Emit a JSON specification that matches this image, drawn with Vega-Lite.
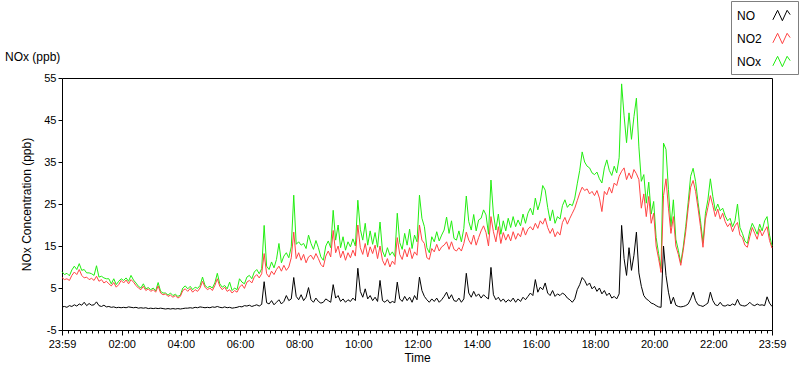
{
  "$schema": "https://vega.github.io/schema/vega-lite/v6.json",
  "width": 710,
  "height": 252,
  "autosize": {"type": "none"},
  "padding": {"left": 62, "top": 78, "right": 28, "bottom": 39},
  "background": "white",
  "config": {
    "font": "Liberation Sans",
    "view": {"stroke": "#000000", "strokeWidth": 1},
    "axis": {"labelFont": "Liberation Sans", "titleFont": "Liberation Sans", "labelColor": "#000", "titleColor": "#000", "tickColor": "#000", "titleFontWeight": "normal", "labelFontSize": 11, "titleFontSize": 12, "grid": false, "domain": false}
  },
  "title": {"text": "NOx (ppb)", "anchor": "start", "frame": "group", "dx": -57, "offset": -63, "fontSize": 12, "fontWeight": "normal", "font": "Liberation Sans", "color": "#000"},
  "data": {"values": [
{"t":0,"NO":0.5,"NO2":7.5,"NOx":8.9},{"t":5,"NO":0.6,"NO2":7.0,"NOx":8.2},{"t":10,"NO":0.4,"NO2":7.2,"NOx":8.5},{"t":15,"NO":0.8,"NO2":6.8,"NOx":7.9},{"t":20,"NO":0.6,"NO2":8.0,"NOx":9.3},{"t":25,"NO":1.0,"NO2":8.8,"NOx":10.2},{"t":30,"NO":0.7,"NO2":8.2,"NOx":9.4},{"t":35,"NO":1.2,"NO2":9.4,"NOx":10.8},{"t":40,"NO":0.9,"NO2":8.0,"NOx":9.2},{"t":45,"NO":1.6,"NO2":7.4,"NOx":9.4},{"t":50,"NO":0.8,"NO2":7.6,"NOx":8.6},{"t":55,"NO":1.3,"NO2":7.0,"NOx":8.6},{"t":60,"NO":0.9,"NO2":7.3,"NOx":8.4},
{"t":65,"NO":1.0,"NO2":6.8,"NOx":8.0},{"t":70,"NO":1.7,"NO2":7.8,"NOx":10.3},{"t":75,"NO":0.8,"NO2":6.6,"NOx":7.6},{"t":80,"NO":0.6,"NO2":7.0,"NOx":7.8},{"t":85,"NO":0.9,"NO2":6.2,"NOx":7.4},{"t":90,"NO":0.5,"NO2":6.6,"NOx":7.2},{"t":95,"NO":0.6,"NO2":6.0,"NOx":7.2},{"t":100,"NO":0.4,"NO2":5.5,"NOx":6.0},{"t":105,"NO":0.5,"NO2":6.3,"NOx":7.2},{"t":110,"NO":0.3,"NO2":5.2,"NOx":5.8},{"t":115,"NO":0.4,"NO2":5.8,"NOx":6.6},{"t":120,"NO":0.3,"NO2":6.8,"NOx":7.2},
{"t":125,"NO":0.4,"NO2":6.2,"NOx":6.8},{"t":130,"NO":0.3,"NO2":6.9,"NOx":7.4},{"t":135,"NO":0.5,"NO2":6.0,"NOx":6.6},{"t":140,"NO":0.4,"NO2":7.0,"NOx":8.0},{"t":145,"NO":0.3,"NO2":6.4,"NOx":6.9},{"t":150,"NO":0.4,"NO2":5.6,"NOx":6.2},{"t":155,"NO":0.2,"NO2":5.0,"NOx":5.4},{"t":160,"NO":0.3,"NO2":4.6,"NOx":5.0},{"t":165,"NO":0.2,"NO2":5.4,"NOx":6.0},{"t":170,"NO":0.3,"NO2":4.4,"NOx":4.8},{"t":175,"NO":0.1,"NO2":4.8,"NOx":5.1},{"t":180,"NO":0.2,"NO2":4.2,"NOx":4.6},{"t":185,"NO":0.1,"NO2":4.6,"NOx":5.0},{"t":190,"NO":0.2,"NO2":4.0,"NOx":4.3},{"t":195,"NO":0.1,"NO2":5.5,"NOx":6.3},{"t":200,"NO":0.2,"NO2":3.8,"NOx":4.2},{"t":205,"NO":0.1,"NO2":3.4,"NOx":3.8},{"t":210,"NO":0.0,"NO2":3.6,"NOx":3.8},{"t":215,"NO":0.1,"NO2":3.0,"NOx":3.3},{"t":220,"NO":0.0,"NO2":3.3,"NOx":3.8},{"t":225,"NO":0.1,"NO2":2.8,"NOx":3.2},{"t":230,"NO":0.0,"NO2":3.2,"NOx":3.5},{"t":235,"NO":0.1,"NO2":2.6,"NOx":3.0},{"t":240,"NO":0.0,"NO2":3.0,"NOx":3.3},{"t":245,"NO":0.1,"NO2":4.4,"NOx":5.0},{"t":250,"NO":0.2,"NO2":4.8,"NOx":5.5},
{"t":255,"NO":0.2,"NO2":4.2,"NOx":4.8},{"t":260,"NO":0.3,"NO2":4.9,"NOx":5.4},{"t":265,"NO":0.2,"NO2":4.0,"NOx":4.6},{"t":270,"NO":0.4,"NO2":4.6,"NOx":5.2},{"t":275,"NO":0.3,"NO2":4.2,"NOx":4.9},{"t":280,"NO":0.5,"NO2":5.0,"NOx":5.6},{"t":285,"NO":0.4,"NO2":6.6,"NOx":7.6},{"t":290,"NO":0.3,"NO2":5.2,"NOx":5.6},{"t":295,"NO":0.4,"NO2":4.6,"NOx":5.1},{"t":300,"NO":0.3,"NO2":5.0,"NOx":5.4},{"t":305,"NO":0.5,"NO2":4.4,"NOx":5.0},{"t":310,"NO":0.4,"NO2":5.6,"NOx":6.2},{"t":315,"NO":0.6,"NO2":7.2,"NOx":8.5},{"t":320,"NO":0.4,"NO2":5.4,"NOx":6.0},{"t":325,"NO":0.3,"NO2":4.6,"NOx":5.2},{"t":330,"NO":0.5,"NO2":5.2,"NOx":5.6},{"t":335,"NO":0.3,"NO2":4.2,"NOx":4.8},{"t":340,"NO":0.4,"NO2":4.6,"NOx":6.4},{"t":345,"NO":0.2,"NO2":3.8,"NOx":4.4},{"t":350,"NO":0.3,"NO2":4.4,"NOx":5.0},{"t":355,"NO":0.4,"NO2":4.0,"NOx":4.6},{"t":360,"NO":0.6,"NO2":5.2,"NOx":7.2},{"t":365,"NO":0.5,"NO2":5.8,"NOx":6.4},{"t":370,"NO":0.8,"NO2":4.9,"NOx":6.0},{"t":375,"NO":0.7,"NO2":6.4,"NOx":7.6},{"t":380,"NO":0.9,"NO2":6.8,"NOx":8.0},{"t":385,"NO":0.6,"NO2":6.2,"NOx":7.2},{"t":390,"NO":0.8,"NO2":7.6,"NOx":8.8},{"t":395,"NO":1.0,"NO2":8.2,"NOx":9.4},{"t":400,"NO":0.7,"NO2":7.4,"NOx":8.4},{"t":405,"NO":1.1,"NO2":8.4,"NOx":9.6},{"t":410,"NO":6.5,"NO2":13.2,"NOx":19.9},{"t":415,"NO":1.5,"NO2":8.4,"NOx":10.2},{"t":420,"NO":1.2,"NO2":7.6,"NOx":9.4},{"t":425,"NO":2.0,"NO2":9.0,"NOx":11.2},{"t":430,"NO":1.0,"NO2":8.2,"NOx":9.8},{"t":435,"NO":1.6,"NO2":9.4,"NOx":11.8},{"t":440,"NO":2.2,"NO2":10.2,"NOx":15.6},{"t":445,"NO":1.2,"NO2":9.0,"NOx":11.0},{"t":450,"NO":1.8,"NO2":10.4,"NOx":12.6},{"t":455,"NO":3.2,"NO2":9.2,"NOx":13.4},{"t":460,"NO":2.0,"NO2":10.0,"NOx":12.2},{"t":465,"NO":2.4,"NO2":12.2,"NOx":14.8},{"t":470,"NO":7.5,"NO2":18.3,"NOx":27.1},{"t":475,"NO":3.0,"NO2":12.0,"NOx":15.4},{"t":480,"NO":2.2,"NO2":13.4,"NOx":16.0},{"t":485,"NO":3.4,"NO2":11.6,"NOx":15.2},{"t":490,"NO":2.0,"NO2":13.0,"NOx":15.6},
{"t":495,"NO":2.8,"NO2":11.0,"NOx":14.4},{"t":500,"NO":5.1,"NO2":12.4,"NOx":17.6},{"t":505,"NO":2.2,"NO2":12.8,"NOx":15.6},{"t":510,"NO":1.6,"NO2":11.8,"NOx":14.2},{"t":515,"NO":2.6,"NO2":13.2,"NOx":16.3},{"t":520,"NO":1.8,"NO2":12.0,"NOx":14.6},{"t":525,"NO":1.4,"NO2":10.6,"NOx":12.4},{"t":530,"NO":1.6,"NO2":10.0,"NOx":11.6},{"t":535,"NO":2.4,"NO2":12.6,"NOx":15.0},{"t":540,"NO":2.0,"NO2":13.8,"NOx":16.2},{"t":545,"NO":1.6,"NO2":12.4,"NOx":14.6},{"t":550,"NO":5.8,"NO2":18.7,"NOx":23.5},{"t":555,"NO":2.6,"NO2":13.4,"NOx":16.4},{"t":560,"NO":3.2,"NO2":15.0,"NOx":20.0},{"t":565,"NO":1.8,"NO2":12.2,"NOx":14.6},{"t":570,"NO":2.4,"NO2":13.8,"NOx":17.2},{"t":575,"NO":1.6,"NO2":11.6,"NOx":14.0},{"t":580,"NO":2.2,"NO2":13.4,"NOx":16.0},{"t":585,"NO":1.8,"NO2":12.2,"NOx":14.8},{"t":590,"NO":2.6,"NO2":14.0,"NOx":16.7},{"t":595,"NO":2.0,"NO2":12.6,"NOx":15.0},{"t":600,"NO":9.7,"NO2":20.0,"NOx":25.9},{"t":605,"NO":4.2,"NO2":14.6,"NOx":19.0},{"t":610,"NO":2.8,"NO2":13.0,"NOx":16.4},{"t":615,"NO":4.8,"NO2":15.6,"NOx":20.4},{"t":620,"NO":2.4,"NO2":12.4,"NOx":15.2},{"t":625,"NO":3.2,"NO2":14.8,"NOx":18.6},{"t":630,"NO":2.0,"NO2":13.2,"NOx":15.4},{"t":635,"NO":2.8,"NO2":15.2,"NOx":18.2},{"t":640,"NO":1.8,"NO2":12.0,"NOx":14.7},{"t":645,"NO":6.8,"NO2":15.0,"NOx":20.7},{"t":650,"NO":2.0,"NO2":11.6,"NOx":13.8},{"t":655,"NO":1.6,"NO2":10.4,"NOx":12.4},{"t":660,"NO":2.2,"NO2":12.0,"NOx":14.6},{"t":665,"NO":1.4,"NO2":10.0,"NOx":12.8},{"t":670,"NO":1.8,"NO2":11.4,"NOx":13.6},{"t":675,"NO":1.5,"NO2":10.6,"NOx":12.5},{"t":680,"NO":6.4,"NO2":17.0,"NOx":22.8},{"t":685,"NO":2.4,"NO2":13.0,"NOx":15.8},{"t":690,"NO":1.8,"NO2":11.8,"NOx":14.2},{"t":695,"NO":3.0,"NO2":14.2,"NOx":18.0},{"t":700,"NO":2.0,"NO2":12.4,"NOx":15.2},{"t":705,"NO":2.8,"NO2":14.6,"NOx":19.0},{"t":710,"NO":1.6,"NO2":12.0,"NOx":14.4},{"t":715,"NO":3.2,"NO2":13.6,"NOx":17.6},{"t":720,"NO":2.2,"NO2":12.8,"NOx":16.0},{"t":725,"NO":7.6,"NO2":20.0,"NOx":27.1},{"t":730,"NO":4.4,"NO2":16.4,"NOx":21.6},
{"t":735,"NO":3.0,"NO2":15.6,"NOx":19.6},{"t":740,"NO":2.2,"NO2":12.2,"NOx":14.6},{"t":745,"NO":1.6,"NO2":11.8,"NOx":13.4},{"t":750,"NO":2.4,"NO2":14.4,"NOx":17.2},{"t":755,"NO":1.8,"NO2":13.6,"NOx":16.0},{"t":760,"NO":2.6,"NO2":15.4,"NOx":18.4},{"t":765,"NO":1.6,"NO2":13.8,"NOx":16.2},{"t":770,"NO":2.2,"NO2":14.8,"NOx":17.6},{"t":775,"NO":3.0,"NO2":15.2,"NOx":18.8},{"t":780,"NO":4.0,"NO2":16.0,"NOx":21.9},{"t":785,"NO":2.4,"NO2":14.2,"NOx":18.0},{"t":790,"NO":3.4,"NO2":16.0,"NOx":21.0},{"t":795,"NO":2.0,"NO2":14.2,"NOx":16.8},{"t":800,"NO":1.8,"NO2":13.8,"NOx":16.4},{"t":805,"NO":2.6,"NO2":14.6,"NOx":18.6},{"t":810,"NO":1.6,"NO2":13.8,"NOx":16.0},{"t":815,"NO":2.4,"NO2":15.6,"NOx":19.2},{"t":820,"NO":8.5,"NO2":18.3,"NOx":26.9},{"t":825,"NO":3.8,"NO2":16.4,"NOx":20.8},{"t":830,"NO":2.8,"NO2":15.4,"NOx":18.8},{"t":835,"NO":4.2,"NO2":17.6,"NOx":22.5},{"t":840,"NO":3.0,"NO2":15.2,"NOx":18.6},{"t":845,"NO":3.6,"NO2":17.0,"NOx":21.2},{"t":850,"NO":2.6,"NO2":18.6,"NOx":21.6},{"t":855,"NO":3.4,"NO2":19.8,"NOx":23.6},{"t":860,"NO":2.8,"NO2":18.2,"NOx":22.4},{"t":865,"NO":2.4,"NO2":15.0,"NOx":17.8},{"t":870,"NO":9.9,"NO2":22.0,"NOx":30.7},{"t":875,"NO":3.4,"NO2":18.4,"NOx":22.6},{"t":880,"NO":2.2,"NO2":16.0,"NOx":18.8},{"t":885,"NO":2.8,"NO2":19.6,"NOx":22.6},{"t":890,"NO":1.8,"NO2":15.6,"NOx":17.8},{"t":895,"NO":2.4,"NO2":18.2,"NOx":21.0},{"t":900,"NO":1.6,"NO2":16.4,"NOx":18.6},{"t":905,"NO":2.2,"NO2":17.8,"NOx":21.6},{"t":910,"NO":1.8,"NO2":16.2,"NOx":19.4},{"t":915,"NO":2.6,"NO2":18.4,"NOx":22.0},{"t":920,"NO":1.6,"NO2":16.6,"NOx":19.6},{"t":925,"NO":2.4,"NO2":18.0,"NOx":21.2},{"t":930,"NO":1.8,"NO2":17.2,"NOx":19.8},{"t":935,"NO":2.8,"NO2":19.4,"NOx":22.6},{"t":940,"NO":2.2,"NO2":17.6,"NOx":20.4},{"t":945,"NO":3.0,"NO2":19.0,"NOx":22.8},{"t":950,"NO":3.8,"NO2":19.6,"NOx":24.0},{"t":955,"NO":3.2,"NO2":18.8,"NOx":22.4},{"t":960,"NO":7.0,"NO2":20.4,"NOx":26.4},{"t":965,"NO":4.0,"NO2":19.2,"NOx":23.6},{"t":970,"NO":5.2,"NO2":21.0,"NOx":25.6},{"t":975,"NO":4.6,"NO2":20.2,"NOx":29.4},
{"t":980,"NO":6.2,"NO2":21.6,"NOx":28.3},{"t":985,"NO":3.8,"NO2":19.4,"NOx":24.2},{"t":990,"NO":3.2,"NO2":18.0,"NOx":21.0},{"t":995,"NO":4.4,"NO2":19.2,"NOx":23.6},{"t":1000,"NO":3.0,"NO2":17.2,"NOx":20.4},{"t":1005,"NO":3.6,"NO2":18.4,"NOx":22.0},{"t":1010,"NO":3.2,"NO2":17.6,"NOx":21.4},{"t":1015,"NO":3.8,"NO2":20.6,"NOx":24.6},{"t":1020,"NO":3.4,"NO2":21.8,"NOx":26.0},{"t":1025,"NO":2.6,"NO2":20.2,"NOx":24.2},{"t":1030,"NO":2.2,"NO2":21.6,"NOx":25.0},{"t":1035,"NO":1.6,"NO2":22.8,"NOx":24.6},{"t":1040,"NO":2.4,"NO2":24.0,"NOx":26.4},{"t":1045,"NO":4.6,"NO2":25.8,"NOx":29.8},{"t":1050,"NO":5.8,"NO2":27.6,"NOx":33.0},{"t":1055,"NO":7.5,"NO2":29.0,"NOx":37.4},{"t":1060,"NO":6.8,"NO2":28.2,"NOx":35.0},{"t":1065,"NO":5.6,"NO2":28.6,"NOx":34.0},{"t":1070,"NO":6.2,"NO2":27.4,"NOx":33.6},{"t":1075,"NO":4.8,"NO2":28.0,"NOx":32.4},{"t":1080,"NO":5.4,"NO2":27.0,"NOx":32.0},{"t":1085,"NO":4.2,"NO2":28.2,"NOx":32.6},{"t":1090,"NO":5.0,"NO2":26.4,"NOx":31.0},{"t":1095,"NO":3.6,"NO2":23.2,"NOx":30.0},{"t":1100,"NO":4.4,"NO2":28.0,"NOx":33.6},{"t":1105,"NO":3.2,"NO2":27.2,"NOx":35.5},{"t":1110,"NO":3.8,"NO2":29.0,"NOx":33.0},{"t":1115,"NO":2.6,"NO2":27.6,"NOx":31.8},{"t":1120,"NO":3.0,"NO2":30.0,"NOx":34.0},{"t":1125,"NO":2.4,"NO2":29.4,"NOx":32.4},{"t":1130,"NO":3.6,"NO2":31.6,"NOx":36.0},{"t":1135,"NO":19.9,"NO2":32.8,"NOx":53.6},{"t":1140,"NO":12.0,"NO2":33.6,"NOx":46.0},{"t":1145,"NO":8.0,"NO2":30.8,"NOx":39.6},{"t":1150,"NO":14.6,"NO2":32.4,"NOx":46.7},{"t":1155,"NO":9.2,"NO2":31.0,"NOx":40.4},{"t":1160,"NO":12.8,"NO2":33.2,"NOx":45.8},{"t":1165,"NO":18.3,"NO2":32.2,"NOx":50.2},{"t":1170,"NO":8.6,"NO2":30.8,"NOx":38.6},{"t":1175,"NO":5.4,"NO2":24.0,"NOx":30.4},{"t":1180,"NO":3.2,"NO2":27.4,"NOx":32.0},{"t":1185,"NO":2.4,"NO2":22.0,"NOx":25.2},{"t":1190,"NO":2.0,"NO2":26.8,"NOx":30.2},{"t":1195,"NO":1.4,"NO2":20.4,"NOx":22.6},{"t":1200,"NO":1.2,"NO2":22.8,"NOx":25.6},{"t":1205,"NO":0.8,"NO2":15.0,"NOx":17.0},{"t":1210,"NO":0.5,"NO2":12.0,"NOx":13.2},{"t":1215,"NO":0.4,"NO2":8.7,"NOx":9.6},{"t":1220,"NO":15.0,"NO2":27.0,"NOx":39.5},{"t":1225,"NO":8.0,"NO2":31.0,"NOx":38.0},
{"t":1230,"NO":4.0,"NO2":24.0,"NOx":28.4},{"t":1235,"NO":1.2,"NO2":18.0,"NOx":19.6},{"t":1240,"NO":2.8,"NO2":22.0,"NOx":26.0},{"t":1245,"NO":0.9,"NO2":15.0,"NOx":16.6},{"t":1250,"NO":0.6,"NO2":13.0,"NOx":14.0},{"t":1255,"NO":0.5,"NO2":10.4,"NOx":11.0},{"t":1260,"NO":0.6,"NO2":14.0,"NOx":14.8},{"t":1265,"NO":0.8,"NO2":18.4,"NOx":19.6},{"t":1270,"NO":1.2,"NO2":24.0,"NOx":25.4},{"t":1275,"NO":2.4,"NO2":29.0,"NOx":31.6},{"t":1280,"NO":4.0,"NO2":30.6,"NOx":33.5},{"t":1285,"NO":2.0,"NO2":28.0,"NOx":30.4},{"t":1290,"NO":1.0,"NO2":24.0,"NOx":25.4},{"t":1295,"NO":0.8,"NO2":19.6,"NOx":21.0},{"t":1300,"NO":0.6,"NO2":14.7,"NOx":15.8},{"t":1305,"NO":1.0,"NO2":21.4,"NOx":22.8},{"t":1310,"NO":1.4,"NO2":24.2,"NOx":26.0},{"t":1315,"NO":4.0,"NO2":27.0,"NOx":31.0},{"t":1320,"NO":2.0,"NO2":24.6,"NOx":26.8},{"t":1325,"NO":1.0,"NO2":22.0,"NOx":23.4},{"t":1330,"NO":0.8,"NO2":23.8,"NOx":25.0},{"t":1335,"NO":1.6,"NO2":21.4,"NOx":23.4},{"t":1340,"NO":0.8,"NO2":22.8,"NOx":24.0},{"t":1345,"NO":0.7,"NO2":20.8,"NOx":22.2},{"t":1350,"NO":1.0,"NO2":19.6,"NOx":21.0},{"t":1355,"NO":0.8,"NO2":20.4,"NOx":21.6},{"t":1360,"NO":1.2,"NO2":18.4,"NOx":19.6},{"t":1365,"NO":0.9,"NO2":19.8,"NOx":21.0},{"t":1370,"NO":2.3,"NO2":20.6,"NOx":25.0},{"t":1375,"NO":1.0,"NO2":17.6,"NOx":19.4},{"t":1380,"NO":0.8,"NO2":17.0,"NOx":18.0},{"t":1385,"NO":0.7,"NO2":15.2,"NOx":16.2},{"t":1390,"NO":1.0,"NO2":14.7,"NOx":15.6},{"t":1395,"NO":1.6,"NO2":17.2,"NOx":18.6},{"t":1400,"NO":1.0,"NO2":19.4,"NOx":20.4},{"t":1405,"NO":0.8,"NO2":18.0,"NOx":19.2},{"t":1410,"NO":1.2,"NO2":16.6,"NOx":17.8},{"t":1415,"NO":0.9,"NO2":19.0,"NOx":20.2},{"t":1420,"NO":1.0,"NO2":17.4,"NOx":18.6},{"t":1425,"NO":0.8,"NO2":18.6,"NOx":21.0},{"t":1430,"NO":2.9,"NO2":19.6,"NOx":22.0},{"t":1435,"NO":1.4,"NO2":16.3,"NOx":17.6},{"t":1440,"NO":0.6,"NO2":14.5,"NOx":15.0}
  ]},
  "encoding": {
    "x": {"field": "t", "type": "quantitative",
      "scale": {"domain": [0, 1440], "nice": false, "zero": false},
      "axis": {"title": "Time", "titlePadding": 3,
        "values": [0,1,13,25,37,49,61,73,85,97,109,121,133,145,157,169,181,193,205,217,229,241,253,265,277,289,301,313,325,337,349,361,373,385,397,409,421,433,445,457,469,481,493,505,517,529,541,553,565,577,589,601,613,625,637,649,661,673,685,697,709,721,733,745,757,769,781,793,805,817,829,841,853,865,877,889,901,913,925,937,949,961,973,985,997,1009,1021,1033,1045,1057,1069,1081,1093,1105,1117,1129,1141,1153,1165,1177,1189,1201,1213,1225,1237,1249,1261,1273,1285,1297,1309,1321,1333,1345,1357,1369,1381,1393,1405,1417,1429,1440],
        "labelExpr": "datum.value == 0 || datum.value == 1440 ? '23:59' : (((datum.value - 1) % 120 == 0 && datum.value > 1) ? ((((datum.value - 1) / 60) < 10 ? '0' : '') + ((datum.value - 1) / 60) + ':00') : '')",
        "tickSize": {"condition": {"test": "datum.value == 0 || datum.value == 1440 || ((datum.value - 1) % 120 == 0 && datum.value > 1)", "value": 5}, "value": 3},
        "labelOverlap": false, "labelFlush": false, "labelPadding": 3}
    }
  },
  "layer": [
    {"mark": {"type": "line", "strokeWidth": 1},
     "encoding": {
       "y": {"field": "NOx", "type": "quantitative", "title": "NOx Concentration (ppb)",
         "scale": {"domain": [-5, 55], "nice": false, "zero": false},
         "axis": {"values": [-5,0,5,10,15,20,25,30,35,40,45,50,55], "labelExpr": "'' + datum.value", "labelOverlap": false, "tickSize": 4, "labelPadding": 2, "titlePadding": 10}},
       "color": {"datum": "NOx", "type": "nominal",
         "scale": {"domain": ["NO", "NO2", "NOx"], "range": ["#000000", "#ff4444", "#22ee11"]},
         "legend": {"title": null, "orient": "none", "legendX": 669, "legendY": -77, "strokeColor": "#7f7f7f", "fillColor": "#ffffff", "padding": 5, "labelFontSize": 12, "labelFont": "Liberation Sans", "labelColor": "#000", "rowPadding": 6, "symbolType": "M-1,0.5L-0.45,-0.6L0.1,0.6L0.65,-0.6L1,-0.1", "symbolSize": 300, "symbolStrokeWidth": 1, "symbolOffset": 36, "labelOffset": -54}}}},
    {"mark": {"type": "line", "strokeWidth": 1},
     "encoding": {
       "y": {"field": "NO2", "type": "quantitative", "title": "NOx Concentration (ppb)"},
       "color": {"datum": "NO2", "type": "nominal"}}},
    {"mark": {"type": "line", "strokeWidth": 1},
     "encoding": {
       "y": {"field": "NO", "type": "quantitative", "title": "NOx Concentration (ppb)"},
       "color": {"datum": "NO", "type": "nominal"}}}
  ]
}
